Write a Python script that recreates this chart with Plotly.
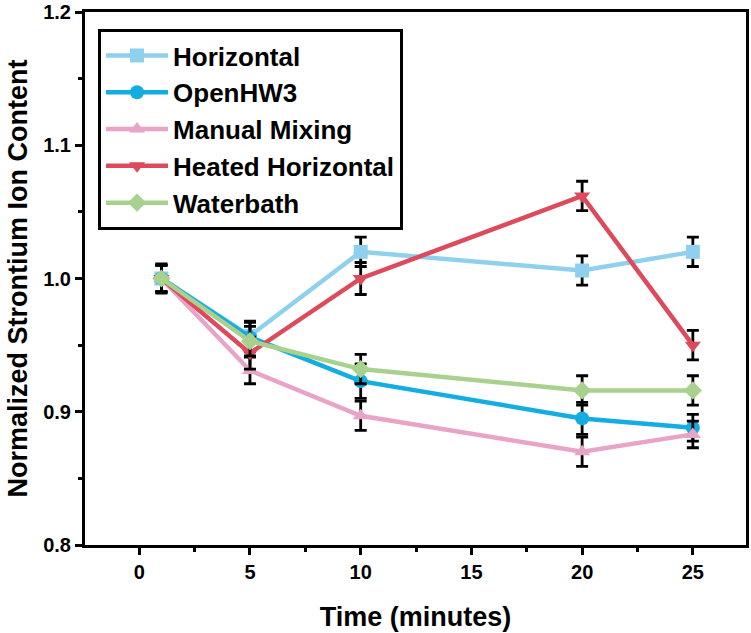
import plotly.graph_objects as go

time = [1, 5, 10, 20, 25]
horizontal = [1.000, 0.957, 1.020, 1.006, 1.020]
horizontal_err = [0.011, 0.011, 0.011, 0.011, 0.011]
openhw3 = [1.000, 0.956, 0.923, 0.895, 0.888]
openhw3_err = [0.010, 0.011, 0.013, 0.012, 0.010]
manual = [1.000, 0.931, 0.897, 0.870, 0.883]
manual_err = [0.010, 0.010, 0.011, 0.011, 0.010]
heated = [1.000, 0.944, 1.000, 1.062, 0.950]
heated_err = [0.010, 0.012, 0.012, 0.011, 0.011]
waterbath = [1.000, 0.953, 0.932, 0.916, 0.916]
waterbath_err = [0.010, 0.011, 0.011, 0.011, 0.011]

series = [
    ("Horizontal", horizontal, horizontal_err, "#8fd0ee", "square"),
    ("OpenHW3", openhw3, openhw3_err, "#13ade2", "circle"),
    ("Manual Mixing", manual, manual_err, "#e9a3c6", "triangle-up"),
    ("Heated Horizontal", heated, heated_err, "#dd4a5c", "triangle-down"),
    ("Waterbath", waterbath, waterbath_err, "#a9d18e", "diamond"),
]

fig = go.Figure()
for name, vals, errs, color, sym in series:
    fig.add_trace(go.Scatter(
        x=time, y=vals, name=name, mode="lines+markers",
        line=dict(color=color, width=4.5),
        marker=dict(symbol=sym, size=14, color=color),
        error_y=dict(type="data", array=errs, visible=True,
                     color="black", thickness=2.8, width=6),
    ))

font_family = "Liberation Sans, Arial, sans-serif"
fig.update_layout(
    width=751, height=633,
    margin=dict(l=85, r=5, t=12, b=88),
    paper_bgcolor="white", plot_bgcolor="white",
    font=dict(family=font_family, color="black"),
    showlegend=True,
    legend=dict(
        x=0.0197, y=0.968, xanchor="left", yanchor="top",
        bgcolor="white", bordercolor="black", borderwidth=3,
        font=dict(family=font_family, size=26, color="black", weight="bold"),
        itemwidth=62,
        tracegroupgap=0,
    ),
    xaxis=dict(
        range=[-2.45, 27.4], tickmode="array", tickvals=[0, 5, 10, 15, 20, 25],
        ticks="outside", ticklen=7, tickwidth=2.5, tickcolor="black",
        minor=dict(tickvals=[2.5, 7.5, 12.5, 17.5, 22.5], ticks="outside",
                   ticklen=4, tickwidth=2.5, tickcolor="black"),
        showline=True, linecolor="black", linewidth=3, mirror=True,
        showgrid=False, zeroline=False, automargin=False,
        tickfont=dict(size=20, family=font_family, weight="bold"),
        title=dict(text="Time (minutes)", standoff=26,
                   font=dict(size=27, family=font_family, weight="bold")),
    ),
    yaxis=dict(
        range=[0.8, 1.2], tickmode="array", tickvals=[0.8, 0.9, 1.0, 1.1, 1.2],
        ticktext=["0.8", "0.9", "1.0", "1.1", "1.2"],
        ticks="outside", ticklen=7, tickwidth=2.5, tickcolor="black",
        minor=dict(tickvals=[0.85, 0.95, 1.05, 1.15], ticks="outside",
                   ticklen=4, tickwidth=2.5, tickcolor="black"),
        showline=True, linecolor="black", linewidth=3, mirror=True,
        showgrid=False, zeroline=False, automargin=False,
        tickfont=dict(size=20, family=font_family, weight="bold"),
        title=dict(text="Normalized Strontium Ion Content", standoff=8,
                   font=dict(size=27, family=font_family, weight="bold")),
    ),
)

fig.write_html("out.html")
